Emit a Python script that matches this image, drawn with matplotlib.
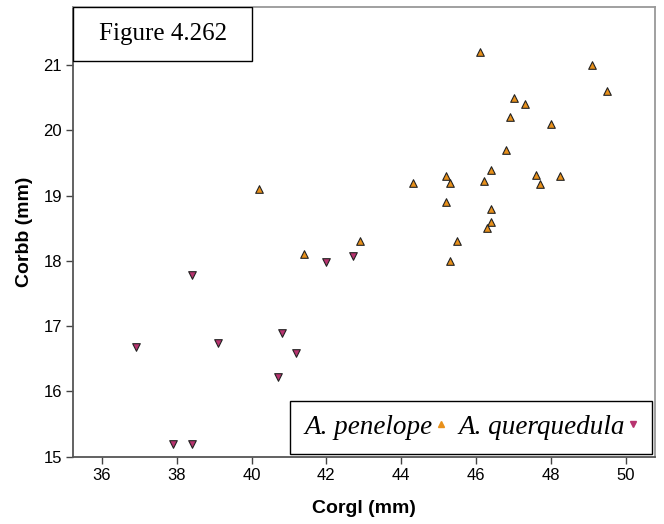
import matplotlib.pyplot as plt
from matplotlib.lines import Line2D
from matplotlib.patches import Rectangle

# A. penelope (orange, up triangles)
pen_x = [40.2, 41.4, 46.1, 49.1, 49.5, 47.0, 47.3, 46.9, 48.0, 46.8, 46.4, 44.3, 45.2,
         45.3, 46.2, 47.6, 47.7, 48.25, 45.2, 46.4, 46.4, 46.3, 42.9, 45.5, 45.3]
pen_y = [19.1, 18.1, 21.2, 21.0, 20.6, 20.5, 20.4, 20.2, 20.1, 19.7, 19.4, 19.2, 19.3,
         19.2, 19.23, 19.32, 19.18, 19.3, 18.9, 18.8, 18.6, 18.5, 18.3, 18.3, 18.0]

# A. querquedula (purple, down triangles)
que_x = [42.7, 42.0, 38.4, 36.9, 39.1, 40.8, 41.2, 40.7, 37.9, 38.4]
que_y = [18.08, 17.98, 17.79, 16.68, 16.74, 16.89, 16.59, 16.22, 15.19, 15.19]

x_ticks = [36, 38, 40, 42, 44, 46, 48, 50]
y_ticks = [15, 16, 17, 18, 19, 20, 21]

orange = '#E8901A'
purple = '#B8336F'

fig = plt.figure(figsize=(6.64, 5.24), dpi=100)
ax = fig.add_axes([0.110, 0.1284, 0.8765, 0.8582])

ax.scatter(pen_x, pen_y, marker='^', s=30, c=orange, edgecolors='#222222', linewidths=0.8, zorder=3)
ax.scatter(que_x, que_y, marker='v', s=30, c=purple, edgecolors='#222222', linewidths=0.8, zorder=3)

ax.set_xlim(35.23, 50.78)
ax.set_ylim(15, 21.89)
ax.set_xticks(x_ticks)
ax.set_yticks(y_ticks)
ax.tick_params(direction='out', length=5, width=1, colors='#444444', labelcolor='black',
               labelsize=12, pad=3)
for lab in ax.get_xticklabels() + ax.get_yticklabels():
    lab.set_family('Liberation Sans')

for side in ['left', 'bottom']:
    ax.spines[side].set_color('#555555')
    ax.spines[side].set_linewidth(1.3)
for side in ['top', 'right']:
    ax.spines[side].set_color('#999999')
    ax.spines[side].set_linewidth(1.3)

ax.set_xlabel('Corgl (mm)', fontsize=14, fontweight='bold', family='Liberation Sans')
ax.set_ylabel('Corbb (mm)', fontsize=14, fontweight='bold', family='Liberation Sans')
ax.xaxis.set_label_coords(0.5, -0.097)
ax.yaxis.set_label_coords(-0.069, 0.5)

# figure label box (top-left corner of the plot area)
ax.add_patch(Rectangle((0.0, 0.88), 0.308, 0.12, transform=ax.transAxes,
                       fc='white', ec='black', lw=1.0, zorder=4))
ax.text(0.154, 0.94, 'Figure 4.262', transform=ax.transAxes, ha='center', va='center',
        fontsize=18, family='Liberation Serif', zorder=5)

# legend: label then marker
handles = [Line2D([], [], ls='none', marker='^', ms=5, mfc=orange, mec=orange),
           Line2D([], [], ls='none', marker='v', ms=5, mfc=purple, mec=purple)]
leg = ax.legend(handles, ['A. penelope', 'A. querquedula'], loc='lower right', ncol=2,
                markerfirst=False, handlelength=0.4, handletextpad=0.1, columnspacing=0.45,
                borderaxespad=0.1, borderpad=0.52, fancybox=False, framealpha=1,
                edgecolor='black', prop={'family': 'Liberation Serif', 'style': 'italic', 'size': 19.5})
leg.get_frame().set_linewidth(1.0)

fig.savefig('out.png', dpi=100)
